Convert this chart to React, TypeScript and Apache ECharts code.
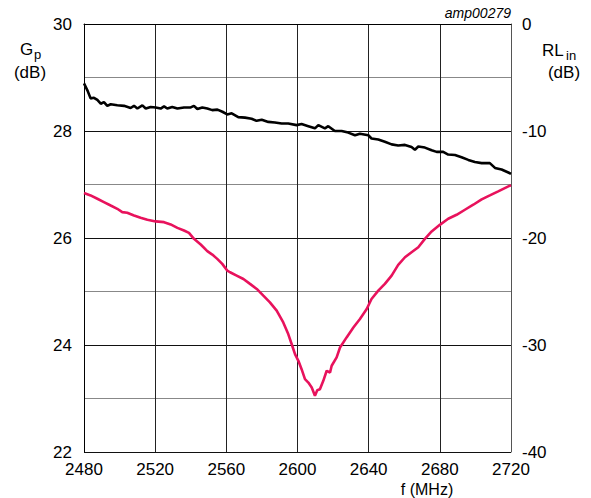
import React, { useEffect, useRef } from "react";
import * as echarts from "echarts";

const FONT = "'Liberation Sans', Arial, Helvetica, sans-serif";

const xTicks = [2480, 2520, 2560, 2600, 2640, 2680, 2720];

const gpFreq = [
  2480, 2481.9, 2483.7, 2485.6, 2487.5, 2489.4, 2491.2, 2493.1, 2495.0, 2498.7,
  2502.5, 2506.2, 2508.1, 2510.0, 2512.8, 2514.7, 2517.5, 2520.3, 2523.1, 2525.0,
  2526.8, 2529.6, 2532.5, 2536.2, 2540.0, 2541.8, 2543.7, 2546.5, 2549.3, 2552.1,
  2555.0, 2557.8, 2560.5, 2563.0, 2566.7, 2570.5, 2574.2, 2577.0, 2579.9, 2583.6,
  2587.3, 2591.1, 2594.8, 2599.5, 2602.3, 2606.1, 2609.8, 2611.7, 2615.4, 2617.3,
  2621.0, 2624.8, 2628.5, 2632.3, 2635.1, 2639.8, 2641.6, 2645.4, 2649.1, 2652.9,
  2656.6, 2660.4, 2664.1, 2666.0, 2667.9, 2671.6, 2675.4, 2678.2, 2681.9, 2684.7,
  2688.5, 2692.2, 2696.0, 2699.7, 2703.5, 2708.1, 2711.0, 2714.7, 2718.8, 2720,
];
const gpValues = [
  28.89, 28.76, 28.61, 28.62, 28.58, 28.51, 28.54, 28.47, 28.50, 28.48,
  28.47, 28.43, 28.47, 28.42, 28.48, 28.42, 28.45, 28.44, 28.42, 28.46,
  28.42, 28.45, 28.42, 28.44, 28.44, 28.47, 28.41, 28.44, 28.42, 28.39,
  28.40, 28.36, 28.31, 28.33, 28.26, 28.25, 28.23, 28.19, 28.21, 28.17,
  28.16, 28.14, 28.14, 28.11, 28.13, 28.09, 28.05, 28.11, 28.05, 28.09,
  28.00, 28.00, 27.97, 27.92, 27.95, 27.92, 27.86, 27.84, 27.80, 27.75,
  27.73, 27.74, 27.70, 27.65, 27.71, 27.69, 27.64, 27.61, 27.61, 27.56,
  27.55, 27.51, 27.46, 27.42, 27.40, 27.40, 27.31, 27.28, 27.22, 27.20,
];

const rlFreq = [
  2480, 2483.7, 2487.5, 2491.2, 2495.0, 2498.7, 2501.5, 2504.3, 2508.1, 2511.8,
  2515.6, 2520.3, 2525.0, 2528.7, 2532.5, 2536.2, 2539.0, 2541.8, 2545.6, 2549.3,
  2552.1, 2554.9, 2557.7, 2560.5, 2562.1, 2565.8, 2569.6, 2573.3, 2577.1, 2580.8,
  2584.5, 2588.3, 2592.0, 2594.8, 2596.7, 2598.6, 2600.5, 2602.3, 2604.2, 2606.1,
  2608.0, 2609.8, 2611.1, 2612.6, 2614.5, 2616.4, 2618.3, 2619.2, 2622.0, 2623.9,
  2627.6, 2631.4, 2635.1, 2638.9, 2641.6, 2645.4, 2649.1, 2652.9, 2656.6, 2660.4,
  2664.1, 2667.9, 2671.6, 2675.4, 2680.0, 2684.7, 2689.4, 2694.1, 2698.8, 2703.5,
  2708.1, 2712.8, 2718.8, 2720,
];
const rlValues = [
  -15.80, -16.02, -16.33, -16.64, -16.96, -17.27, -17.58, -17.64, -17.89, -18.11,
  -18.30, -18.45, -18.52, -18.73, -19.05, -19.30, -19.52, -20.08, -20.61, -21.23,
  -21.55, -21.95, -22.42, -23.04, -23.20, -23.51, -23.83, -24.29, -24.76, -25.39,
  -26.01, -26.79, -27.89, -28.98, -29.91, -30.85, -31.48, -32.26, -33.19, -33.51,
  -33.98, -34.75, -34.22, -34.13, -33.35, -32.41, -32.57, -31.94, -31.16, -30.23,
  -29.29, -28.36, -27.57, -26.64, -25.70, -24.92, -24.29, -23.51, -22.51, -21.80,
  -21.33, -20.86, -20.08, -19.39, -18.77, -18.20, -17.83, -17.36, -16.89, -16.39,
  -16.02, -15.64, -15.15, -15.07,
];

export default function App() {
  const ref = useRef<HTMLDivElement>(null);
  useEffect(() => {
    if (!ref.current) return;
    const chart = echarts.init(ref.current, null, { renderer: "svg" });
    const gpData = gpFreq.map((f, i) => [f, gpValues[i]]);
    const rlData = rlFreq.map((f, i) => [f, rlValues[i]]);
    chart.setOption({
      animation: false,
      backgroundColor: "#fff",
      grid: { left: 84, right: 80, top: 24, bottom: 46, containLabel: false },
      xAxis: {
        type: "value",
        min: xTicks[0],
        max: xTicks[xTicks.length - 1],
        interval: 40,
        axisLine: { show: true, lineStyle: { color: "#000", width: 1 } },
        axisTick: { show: false },
        axisLabel: {
          color: "#000",
          fontSize: 17,
          fontFamily: FONT,
          margin: 9,
          formatter: (v: number) => String(v),
        },
        splitLine: { show: true, lineStyle: { color: "#222", width: 1 } },
      },
      yAxis: [
        {
          type: "value",
          min: 22,
          max: 30,
          interval: 1,
          axisLine: { show: true, lineStyle: { color: "#000", width: 1 } },
          axisTick: { show: false },
          axisLabel: {
            color: "#000",
            fontSize: 17,
            fontFamily: FONT,
            margin: 12,
            formatter: (v: number) => (Math.round(v) % 2 === 0 ? String(v) : ""),
          },
          splitLine: { show: true, lineStyle: { color: ["#111", "#888"], width: 1 } },
        },
        {
          type: "value",
          min: -40,
          max: 0,
          interval: 10,
          position: "right",
          axisLine: { show: true, lineStyle: { color: "#555", width: 1 } },
          axisTick: { show: false },
          axisLabel: { color: "#000", fontSize: 17, fontFamily: FONT, margin: 11 },
          splitLine: { show: false },
        },
      ],
      series: [
        {
          type: "line",
          data: gpData,
          yAxisIndex: 0,
          showSymbol: false,
          lineStyle: { color: "#000", width: 2.6 },
          z: 3,
        },
        {
          type: "line",
          data: rlData,
          yAxisIndex: 1,
          showSymbol: false,
          lineStyle: { color: "#e8125c", width: 2.6 },
          z: 3,
        },
      ],
      graphic: [
        {
          type: "text",
          x: 511,
          y: 13,
          style: {
            text: "amp00279",
            fill: "#000",
            font: `italic 14px ${FONT}`,
            textAlign: "right",
            textVerticalAlign: "middle",
          },
        },
        {
          type: "text",
          x: 20,
          y: 49,
          style: { text: "G", fill: "#000", font: `17px ${FONT}`, textAlign: "left", textVerticalAlign: "middle" },
        },
        {
          type: "text",
          x: 34,
          y: 54,
          style: { text: "p", fill: "#000", font: `13px ${FONT}`, textAlign: "left", textVerticalAlign: "middle" },
        },
        {
          type: "text",
          x: 30,
          y: 72,
          style: { text: "(dB)", fill: "#000", font: `17px ${FONT}`, textAlign: "center", textVerticalAlign: "middle" },
        },
        {
          type: "text",
          x: 542,
          y: 50,
          style: { text: "RL", fill: "#000", font: `17px ${FONT}`, textAlign: "left", textVerticalAlign: "middle" },
        },
        {
          type: "text",
          x: 566,
          y: 55,
          style: { text: "in", fill: "#000", font: `13px ${FONT}`, textAlign: "left", textVerticalAlign: "middle" },
        },
        {
          type: "text",
          x: 564,
          y: 72,
          style: { text: "(dB)", fill: "#000", font: `17px ${FONT}`, textAlign: "center", textVerticalAlign: "middle" },
        },
        {
          type: "text",
          x: 427,
          y: 489,
          style: { text: "f (MHz)", fill: "#000", font: `16px ${FONT}`, textAlign: "center", textVerticalAlign: "middle" },
        },
      ],
    });
    return () => chart.dispose();
  }, []);
  return (
    <div
      ref={ref}
      style={{ position: "fixed", left: 0, top: 0, width: 591, height: 498, background: "#fff" }}
    />
  );
}
